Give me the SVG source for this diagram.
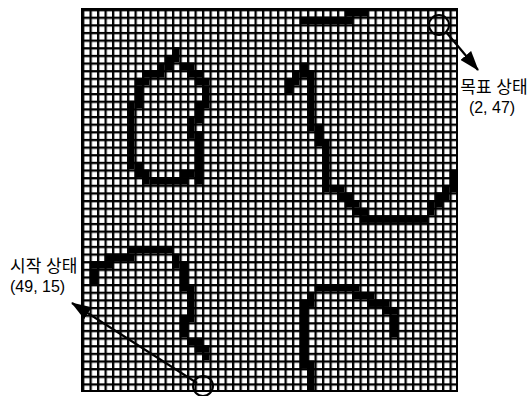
<svg xmlns="http://www.w3.org/2000/svg" width="532" height="396" viewBox="0 0 532 396">
<style>
.lbl{font-family:"Liberation Sans","Noto Sans CJK KR",sans-serif;font-size:16px;fill:#000}
.ko{font-size:17px}
.conn{stroke:#000;stroke-width:2.2;fill:none}
.ring{stroke:#000;stroke-width:2;fill:none}
.obs rect{fill:#000}
</style>
<defs>
<pattern id="cell" patternUnits="userSpaceOnUse" x="82" y="9" width="7.5" height="7.64">
<rect width="7.5" height="7.64" fill="#fff"/>
<rect width="2.3" height="7.64" fill="#000"/>
<rect width="7.5" height="2.3" fill="#000"/>
</pattern>
<marker id="ah" markerUnits="userSpaceOnUse" markerWidth="20" markerHeight="14" viewBox="0 0 20 14" refX="19" refY="7" orient="auto">
<path d="M0 0L20 7L0 14z" fill="#000"/>
</marker>
</defs>
<rect width="532" height="396" fill="#fff"/>
<g id="grid">
<rect x="82" y="9" width="375" height="382" fill="url(#cell)"/>
<rect x="82" y="9" width="375" height="382" fill="none" stroke="#000" stroke-width="2"/>
</g>
<g id="obstacles" class="obs" transform="translate(82,9) scale(7.5,7.64)">
<g id="obs-top">
<rect x="29" y="1" width="7" height="1"/>
<rect x="35" y="0" width="3" height="1"/>
</g>
<g id="obs-blob">
<rect x="12" y="5" width="1" height="2"/>
<rect x="11" y="6" width="1" height="2"/>
<rect x="10" y="7" width="1" height="2"/>
<rect x="13" y="7" width="2" height="1"/>
<rect x="8" y="8" width="2" height="1"/>
<rect x="14" y="8" width="2" height="1"/>
<rect x="7" y="9" width="2" height="1"/>
<rect x="15" y="9" width="2" height="1"/>
<rect x="7" y="10" width="1" height="3"/>
<rect x="16" y="10" width="1" height="3"/>
<rect x="6" y="12" width="1" height="9"/>
<rect x="15" y="12" width="1" height="3"/>
<rect x="14" y="14" width="1" height="3"/>
<rect x="15" y="16" width="1" height="7"/>
<rect x="7" y="20" width="1" height="2"/>
<rect x="8" y="21" width="1" height="2"/>
<rect x="13" y="21" width="2" height="1"/>
<rect x="9" y="22" width="5" height="1"/>
</g>
<g id="obs-curve">
<rect x="29" y="7" width="1" height="2"/>
<rect x="28" y="8" width="1" height="2"/>
<rect x="27" y="9" width="1" height="2"/>
<rect x="30" y="8" width="1" height="8"/>
<rect x="31" y="15" width="1" height="3"/>
<rect x="32" y="17" width="1" height="7"/>
<rect x="33" y="23" width="2" height="1"/>
<rect x="34" y="24" width="2" height="1"/>
<rect x="35" y="25" width="2" height="1"/>
<rect x="36" y="26" width="2" height="1"/>
<rect x="37" y="27" width="9" height="1"/>
<rect x="46" y="25" width="1" height="2"/>
<rect x="47" y="24" width="1" height="2"/>
<rect x="48" y="23" width="1" height="2"/>
<rect x="49" y="21" width="1" height="3"/>
</g>
<g id="obs-arc">
<rect x="6" y="31" width="6" height="1"/>
<rect x="3" y="32" width="4" height="1"/>
<rect x="12" y="32" width="1" height="2"/>
<rect x="1" y="33" width="3" height="1"/>
<rect x="1" y="34" width="1" height="2"/>
<rect x="13" y="33" width="1" height="4"/>
<rect x="14" y="36" width="1" height="5"/>
<rect x="13" y="40" width="1" height="3"/>
<rect x="14" y="43" width="2" height="1"/>
<rect x="15" y="44" width="2" height="1"/>
<rect x="16" y="45" width="1" height="1"/>
</g>
<g id="obs-arch">
<rect x="31" y="36" width="6" height="1"/>
<rect x="30" y="37" width="1" height="2"/>
<rect x="36" y="37" width="3" height="1"/>
<rect x="38" y="38" width="3" height="1"/>
<rect x="40" y="39" width="2" height="1"/>
<rect x="41" y="40" width="1" height="3"/>
<rect x="29" y="38" width="1" height="9"/>
<rect x="30" y="46" width="1" height="4"/>
</g>
</g>
<g id="goal">
<circle class="ring" cx="439" cy="25" r="10"/>
<text class="lbl ko" x="494" y="93" text-anchor="middle">목표 상태</text>
<text class="lbl" x="492" y="113" text-anchor="middle">(2, 47)</text>
</g>
<g id="start">
<circle class="ring" cx="203" cy="386" r="10"/>
<text class="lbl ko" x="10" y="272">시작 상태</text>
<text class="lbl" x="10" y="292">(49, 15)</text>
</g>
<g id="connectors">
<line class="conn" x1="446" y1="32" x2="478" y2="70" marker-end="url(#ah)"/>
<line class="conn" x1="197" y1="383" x2="72" y2="303" marker-end="url(#ah)"/>
</g>
</svg>
